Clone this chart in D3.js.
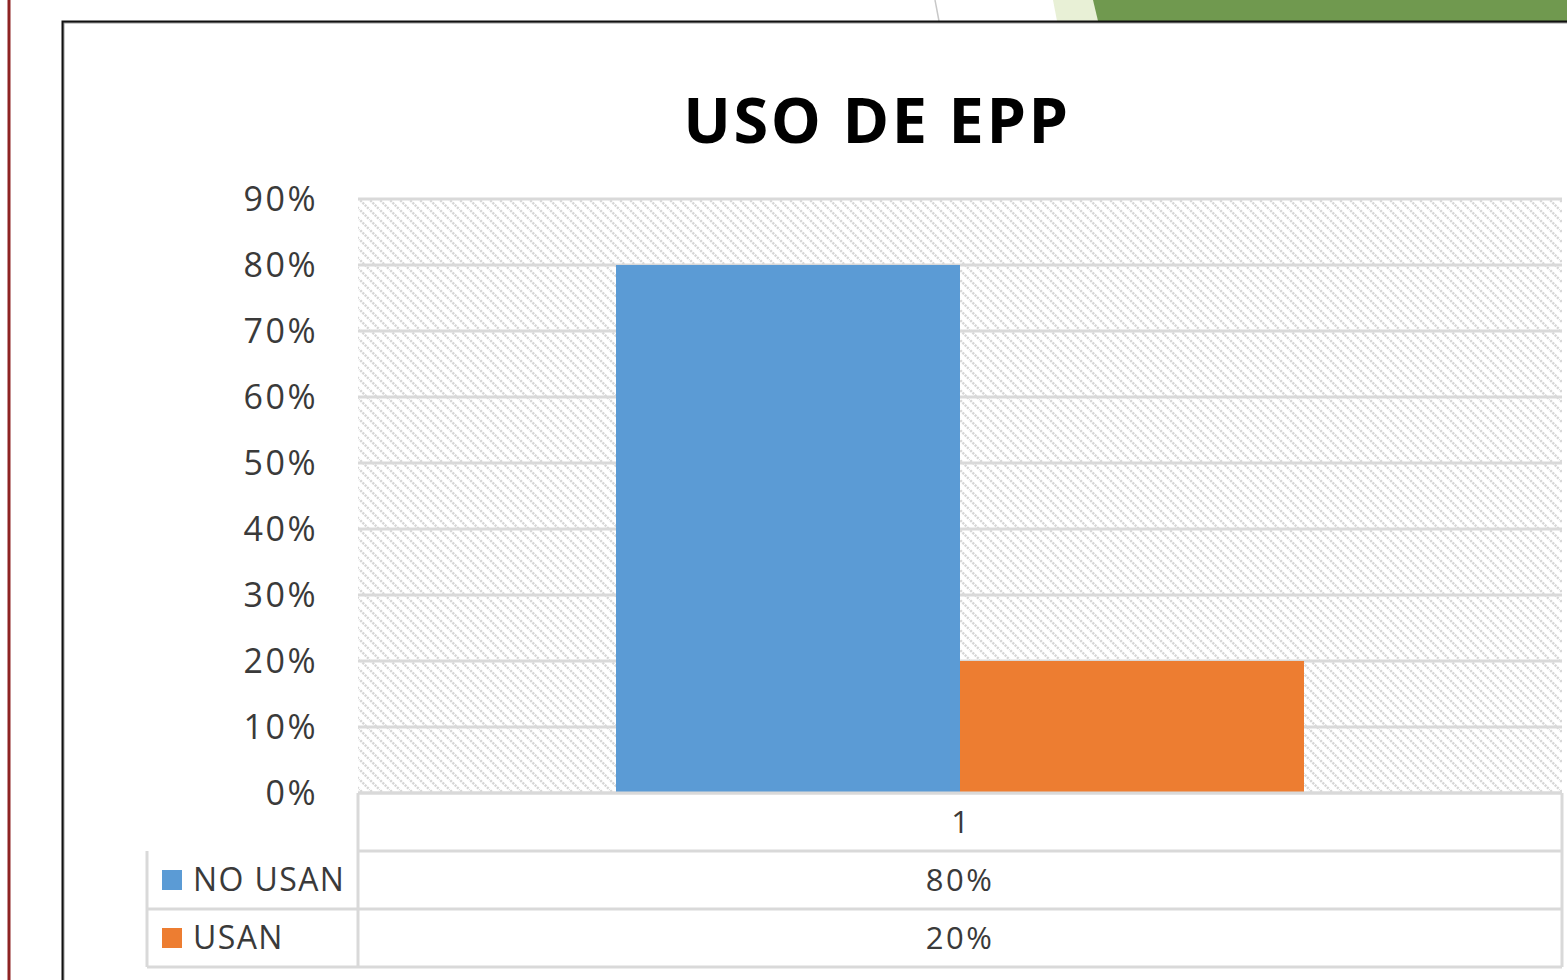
<!DOCTYPE html>
<html>
<head>
<meta charset="utf-8">
<script src="https://cdn.jsdelivr.net/npm/d3@7"></script>
<style>
  body { margin: 0; background: #fff; }
  svg { display: block; }
</style>
</head>
<body>
<div id="chart-area"></div>
<script>
// chart data
const categories = ["1"];
const seriesNames = ["NO USAN", "USAN"];
const seriesValues = [[0.80], [0.20]];
const seriesColors = ["#5b9bd5", "#ed7d31"];
const yTicks = [0, 0.1, 0.2, 0.3, 0.4, 0.5, 0.6, 0.7, 0.8, 0.9];
const chartTitle = "USO DE EPP";

const W = 1567, H = 980;
const plot = {left: 358, right: 1562, top: 199, bottom: 793};
const rowH = 58;
const fontFam = "'Open Sans', 'Liberation Sans', sans-serif";
const textCol = "#3a3a3a";

const svg = d3.select("#chart-area")
    .append("svg")
        .attr("width", W)
        .attr("height", H);

// hatch pattern for plot background
const defs = svg.append("defs");
const pat = defs.append("pattern")
    .attr("id", "hatch")
    .attr("patternUnits", "userSpaceOnUse")
    .attr("width", 10)
    .attr("height", 10);
pat.append("path")
    .attr("d", "M-2,-2 L12,12 M-2,8 L2,12 M8,-2 L12,2")
    .attr("stroke", "#d6d6d6")
    .attr("stroke-width", 2.4)
    .attr("stroke-dasharray", "2.2,1");

// slide decoration
svg.append("line")
    .attr("x1", 9).attr("x2", 9)
    .attr("y1", 0).attr("y2", H)
    .attr("stroke", "#8e2323")
    .attr("stroke-width", 3);
svg.append("line")
    .attr("x1", 935).attr("y1", 0)
    .attr("x2", 939).attr("y2", 21)
    .attr("stroke", "#c8c8c8")
    .attr("stroke-width", 1.5);
svg.append("polygon")
    .attr("points", "1053,0 1096,0 1100,21 1057,21")
    .attr("fill", "#e8f0d6");
svg.append("polygon")
    .attr("points", "1093,0 1567,0 1567,21 1098,21")
    .attr("fill", "#70994f");

// chart frame
svg.append("rect")
    .attr("x", 63.5).attr("y", 22.5)
    .attr("width", W).attr("height", H)
    .attr("fill", "#fff")
    .attr("stroke", "#999")
    .attr("stroke-width", 2);
svg.append("rect")
    .attr("x", 62.5).attr("y", 21.5)
    .attr("width", W).attr("height", H)
    .attr("fill", "none")
    .attr("stroke", "#111")
    .attr("stroke-width", 2);

// title
svg.append("text")
    .attr("x", 877)
    .attr("y", 143)
    .attr("text-anchor", "middle")
    .attr("font-family", fontFam)
    .attr("font-weight", "bold")
    .attr("font-size", "63px")
    .attr("letter-spacing", "2.6px")
    .attr("fill", "#000")
    .text(chartTitle);

// scales
const y = d3.scaleLinear()
    .domain([0, 0.9])
    .range([plot.bottom, plot.top]);

const x0 = d3.scaleBand()
    .domain(categories)
    .range([plot.left, plot.right])
    .paddingInner(0)
    .paddingOuter(0.375);

const x1 = d3.scaleBand()
    .domain(seriesNames)
    .range([0, x0.bandwidth()]);

// background + gridlines
svg.append("rect")
    .attr("x", plot.left)
    .attr("y", plot.top)
    .attr("width", plot.right - plot.left)
    .attr("height", plot.bottom - plot.top)
    .attr("fill", "url(#hatch)");

svg.append("g")
    .selectAll("line")
    .data(yTicks)
    .enter()
    .append("line")
        .attr("x1", plot.left)
        .attr("x2", plot.right)
        .attr("y1", d => y(d))
        .attr("y2", d => y(d))
        .attr("stroke", "#d9d9d9")
        .attr("stroke-width", 3);

// y axis labels
const yAxisCall = d3.axisLeft(y)
    .tickValues(yTicks)
    .tickSize(0)
    .tickPadding(0)
    .tickFormat(d3.format(".0%"));
const yAxis = svg.append("g")
    .attr("transform", "translate(318,0)")
    .call(yAxisCall);
yAxis.select(".domain").remove();
yAxis.selectAll("text")
    .attr("font-family", fontFam)
    .attr("font-size", "34px")
    .attr("letter-spacing", "2.5px")
    .attr("fill", textCol)
    .attr("dy", "0.35em");

// bars
const flat = [];
categories.forEach(function(c, i){
    seriesNames.forEach(function(s, j){
        flat.push({cat: c, series: s, value: seriesValues[j][i], color: seriesColors[j]});
    });
});

svg.append("g")
    .selectAll("rect")
    .data(flat)
    .enter()
    .append("rect")
        .attr("x", d => x0(d.cat) + x1(d.series))
        .attr("y", d => y(d.value))
        .attr("width", x1.bandwidth())
        .attr("height", d => y(0) - y(d.value))
        .attr("fill", d => d.color);

// data table
const table = svg.append("g");
const lineCol = "#d9d9d9";
const legendLeft = 147;
const rowsTop = plot.bottom + rowH;
const tableBottom = plot.bottom + rowH * (seriesNames.length + 1);

function hline(x1_, x2_, yy){
    table.append("line")
        .attr("x1", x1_).attr("x2", x2_)
        .attr("y1", yy).attr("y2", yy)
        .attr("stroke", lineCol).attr("stroke-width", 3);
}
function vline(xx, y1_, y2_){
    table.append("line")
        .attr("x1", xx).attr("x2", xx)
        .attr("y1", y1_).attr("y2", y2_)
        .attr("stroke", lineCol).attr("stroke-width", 3);
}

hline(plot.left, plot.right, plot.bottom);
for (let r = 0; r <= seriesNames.length; r++) {
    hline(r === 0 ? plot.left : legendLeft, plot.right, rowsTop + rowH * r);
}
vline(plot.left, plot.bottom, tableBottom);
vline(plot.right, plot.bottom, tableBottom);
vline(legendLeft, rowsTop, tableBottom);

// category header
categories.forEach(function(c){
    table.append("text")
        .attr("x", x0(c) + x0.bandwidth() / 2)
        .attr("y", plot.bottom + rowH / 2)
        .attr("dy", "0.35em")
        .attr("text-anchor", "middle")
        .attr("font-family", fontFam)
        .attr("font-size", "31px")
        .attr("fill", textCol)
        .text(c);
});

// rows
seriesNames.forEach(function(s, j){
    const cy = rowsTop + rowH * j + rowH / 2;
    table.append("rect")
        .attr("x", 162).attr("y", cy - 10)
        .attr("width", 20).attr("height", 20)
        .attr("fill", seriesColors[j]);
    table.append("text")
        .attr("x", 193)
        .attr("y", cy)
        .attr("dy", "0.35em")
        .attr("font-family", fontFam)
        .attr("font-size", "32px")
        .attr("letter-spacing", "1.4px")
        .attr("fill", textCol)
        .text(s);
    categories.forEach(function(c, i){
        table.append("text")
            .attr("x", x0(c) + x0.bandwidth() / 2)
            .attr("y", cy)
            .attr("dy", "0.35em")
            .attr("text-anchor", "middle")
            .attr("font-family", fontFam)
            .attr("font-size", "31px")
            .attr("letter-spacing", "2.5px")
            .attr("fill", textCol)
            .text(d3.format(".0%")(seriesValues[j][i]));
    });
});
</script>
</body>
</html>
